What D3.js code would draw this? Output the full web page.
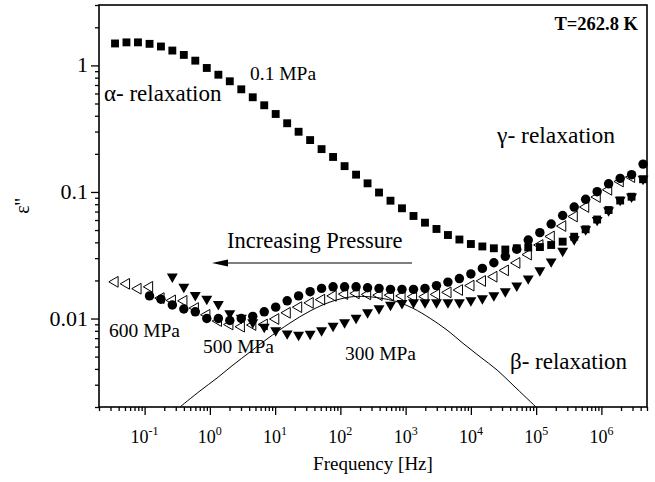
<!DOCTYPE html>
<html>
<head>
<meta charset="utf-8">
<script src="https://cdn.jsdelivr.net/npm/d3@7"></script>
<style>
  body { margin: 0; background: #fff; }
</style>
</head>
<body>
<script>
// measurement frequencies [Hz], shared by all pressures
const freq = [0.0352, 0.0527, 0.0791, 0.119, 0.178, 0.266, 0.399, 0.598, 0.897, 1.35,
  2.02, 3.03, 4.54, 6.81, 10.2, 15.3, 22.9, 34.4, 51.5, 77.3,
  116, 174, 261, 391, 586, 879, 1320, 1980, 2970, 4450,
  6670, 1.0e4, 1.50e4, 2.25e4, 3.37e4, 5.05e4, 7.57e4, 1.14e5, 1.70e5, 2.55e5,
  3.83e5, 5.74e5, 8.61e5, 1.29e6, 1.94e6, 2.90e6, 4.35e6]

// eps'' at 0.1 MPa (filled squares)
const p01 = [1.49, 1.52, 1.52, 1.48, 1.41, 1.31, 1.21, 1.09, 0.954, 0.844,
  0.749, 0.647, 0.560, 0.484, 0.413, 0.349, 0.299, 0.257, 0.218, 0.189,
  0.160, 0.137, 0.117, 0.099, 0.0853, 0.0743, 0.0646, 0.0572, 0.0510, 0.0457,
  0.0421, 0.0388, 0.0371, 0.0359, 0.0351, 0.0359, 0.0364, 0.0367, 0.0381, 0.0405,
  0.0443, 0.0507, 0.0606, 0.0720, 0.0856, 0.0917, 0.126]

// 300 MPa (filled down triangles)
const p300 = [null, null, null, null, null, 0.0214, 0.0178, 0.0153, 0.0143, 0.0130,
  0.0110, 0.0101, 0.0093, 0.00857, 0.00804, 0.00761, 0.00741, 0.00755, 0.00804, 0.00873,
  0.0093, 0.0101, 0.0112, 0.0120, 0.0128, 0.0132, 0.0134, 0.0134, 0.0134, 0.0134,
  0.0134, 0.0139, 0.0144, 0.0152, 0.0164, 0.0182, 0.0207, 0.0240, 0.0282, 0.0342,
  0.0421, 0.0505, 0.0600, 0.0714, 0.0864, 0.0917, 0.127]

// 500 MPa (open left triangles)
const p500 = [0.0195, 0.0188, 0.0172, 0.0178, 0.0145, 0.0139, 0.0138, 0.0121, 0.0107, 0.00956,
  0.00897, 0.00862, 0.00889, 0.00897, 0.00991, 0.0111, 0.0123, 0.0133, 0.0141, 0.0151,
  0.0156, 0.0158, 0.0155, 0.0153, 0.0153, 0.0151, 0.0149, 0.0149, 0.0155, 0.0161,
  0.0168, 0.0182, 0.0198, 0.0214, 0.0240, 0.0275, 0.0320, 0.0381, 0.0445, 0.0538,
  0.0640, 0.0760, 0.0912, 0.104, 0.121, 0.131, null]

// 600 MPa (filled circles)
const p600 = [null, null, null, 0.0151, 0.0142, 0.0128, 0.0119, 0.0113, 0.0100, 0.0100,
  0.00965, 0.0100, 0.0104, 0.0113, 0.0123, 0.0138, 0.0151, 0.0163, 0.0173, 0.0178,
  0.0178, 0.0178, 0.0175, 0.0173, 0.0170, 0.0170, 0.0170, 0.0173, 0.0182, 0.0194,
  0.0207, 0.0225, 0.0249, 0.0276, 0.0310, 0.0353, 0.0417, 0.0477, 0.0558, 0.0652,
  0.0760, 0.0875, 0.1005, 0.116, 0.128, 0.137, 0.166]

// beta relaxation fit curve
const betaF = [0.348, 0.706, 1.29, 2.26, 4.12, 7.51, 16.9, 34.3, 69.4, 140,
  239, 405, 738, 1300, 2370, 4310, 7580, 13800, 25200, 44200, 99600]
const betaE = [0.0020, 0.00268, 0.00339, 0.00429, 0.00544, 0.00689, 0.00922, 0.01147, 0.0135, 0.01479,
  0.01493, 0.01452, 0.01358, 0.01204, 0.01004, 0.00811, 0.00637, 0.00499, 0.00392, 0.00298, 0.0020]

const xMajor = [1e-1, 1e0, 1e1, 1e2, 1e3, 1e4, 1e5, 1e6]
const xExp = ['-1', '0', '1', '2', '3', '4', '5', '6']
const yMajor = [0.01, 0.1, 1]
const yLabels = ['0.01', '0.1', '1']

const FONT = "'Liberation Serif', 'DejaVu Serif', 'Times New Roman', serif"

const W = 655, H = 482
const m = { l: 99, t: 5, r: 8, b: 75 }
const w = W - m.l - m.r, h = H - m.t - m.b

const x = d3.scaleLog().domain([0.02, 5e6]).range([m.l, m.l + w])
const y = d3.scaleLog().domain([0.002, 3]).range([m.t + h, m.t])

const svg = d3.select('body').append('svg')
  .attr('width', W).attr('height', H)
  .style('font-family', FONT)

svg.append('clipPath').attr('id', 'clip')
  .append('rect').attr('x', m.l).attr('y', m.t).attr('width', w).attr('height', h)

// minor ticks: 2..9 in each decade, inside the domain
function minors(lo, hi) {
  const out = []
  for (let e = Math.floor(Math.log10(lo)); e <= Math.ceil(Math.log10(hi)); e++) {
    for (let k = 2; k <= 9; k++) {
      const v = k * Math.pow(10, e)
      if (v >= lo * 0.999 && v <= hi * 1.001) out.push(v)
    }
  }
  return out
}

// x axis
svg.append('g').attr('transform', `translate(0,${m.t + h})`)
  .call(d3.axisBottom(x).tickValues(minors(0.02, 5e6)).tickSize(4).tickFormat(''))
svg.append('g').attr('transform', `translate(0,${m.t + h})`)
  .call(d3.axisBottom(x).tickValues(xMajor).tickSize(8).tickFormat(''))

// y axis
svg.append('g').attr('transform', `translate(${m.l},0)`)
  .call(d3.axisLeft(y).tickValues(minors(0.002, 3)).tickSize(4).tickFormat(''))
svg.append('g').attr('transform', `translate(${m.l},0)`)
  .call(d3.axisLeft(y).tickValues(yMajor).tickSize(8).tickFormat(''))

svg.selectAll('.domain').remove()
svg.selectAll('.tick line').attr('stroke', '#000').attr('stroke-width', 1.3)

// frame
svg.append('rect')
  .attr('x', m.l).attr('y', m.t).attr('width', w).attr('height', h)
  .attr('fill', 'none').attr('stroke', '#000').attr('stroke-width', 1.6)

// all text goes through this so the serif face sticks
function txt(tx, ty, s, size, anchor) {
  return svg.append('text')
    .attr('x', tx).attr('y', ty)
    .attr('text-anchor', anchor || 'start')
    .attr('fill', '#000')
    .style('font-family', FONT)
    .style('font-size', size + 'px')
    .text(s)
}

// tick labels
xMajor.forEach((v, i) => {
  const t = txt(x(v), m.t + h + 36, '10', 18, 'middle')
  t.append('tspan').attr('dy', -8).style('font-size', '12px').text(xExp[i])
})
yMajor.forEach((v, i) => {
  txt(m.l - 11, y(v) + 7, yLabels[i], 22, 'end')
})

// axis titles
txt(m.l + w / 2, 470, 'Frequency [Hz]', 19, 'middle')

svg.append('text')
  .attr('transform', `translate(29,${m.t + h / 2}) rotate(-90)`)
  .attr('text-anchor', 'middle')
  .attr('fill', '#000')
  .style('font-family', FONT)
  .style('font-size', '20px')
  .text("ε''")

// beta fit line
const line = d3.line()
  .x((d, i) => x(betaF[i]))
  .y(d => y(d))
  .curve(d3.curveCatmullRom)

svg.append('path')
  .datum(betaE)
  .attr('clip-path', 'url(#clip)')
  .attr('d', line)
  .attr('fill', 'none')
  .attr('stroke', '#000')
  .attr('stroke-width', 1)

// data points
function pts(vals) {
  return vals.map((v, i) => ({ f: freq[i], v: v })).filter(d => d.v != null)
}

function drawSeries(vals, type, size, rot, fill, stroke) {
  svg.append('g').selectAll('path')
    .data(pts(vals))
    .enter()
    .append('path')
    .attr('d', d3.symbol().type(type).size(size))
    .attr('transform', d => `translate(${x(d.f)},${y(d.v)}) rotate(${rot})`)
    .attr('fill', fill)
    .attr('stroke', stroke)
    .attr('stroke-width', 1)
}

drawSeries(p01, d3.symbolSquare, 62, 0, '#000', 'none')
drawSeries(p300, d3.symbolTriangle, 52, 180, '#000', 'none')
drawSeries(p500, d3.symbolTriangle, 50, -90, 'none', '#000')
drawSeries(p600, d3.symbolCircle, 70, 0, '#000', 'none')

// annotations
txt(638, 30, 'T=262.8 K', 18.5, 'end').style('font-weight', 'bold')
txt(250, 80, '0.1 MPa', 19.5)
txt(104, 101, 'α- relaxation', 23)
txt(497, 143, 'γ- relaxation', 23.5)
txt(227, 248, 'Increasing Pressure', 22.5)
txt(109, 337, '600 MPa', 19.5)
txt(203, 353, '500 MPa', 19.5)
txt(345, 360, '300 MPa', 19.5)
txt(510, 369, 'β- relaxation', 23)

// arrow under "Increasing Pressure"
svg.append('line')
  .attr('x1', 412).attr('y1', 263).attr('x2', 222).attr('y2', 263)
  .attr('stroke', '#000').attr('stroke-width', 1.2)
svg.append('path')
  .attr('d', 'M212,263 L228,259.5 L228,266.5 Z')
  .attr('fill', '#000')
</script>
</body>
</html>
